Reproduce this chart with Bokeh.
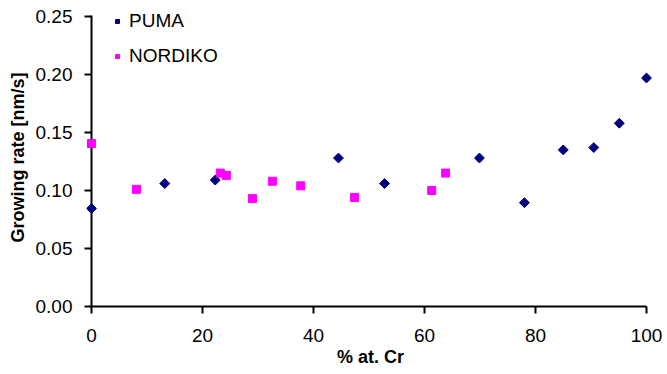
import math
from bokeh.plotting import figure
from bokeh.models import FixedTicker, NumeralTickFormatter, Legend, LegendItem, Range1d
from bokeh.embed import file_html
from bokeh.resources import INLINE

# Data
puma_x = [0, 13.2, 22.3, 44.5, 52.8, 69.9, 78.0, 85.0, 90.5, 95.1, 100]
puma_y = [0.0845, 0.106, 0.109, 0.128, 0.106, 0.128, 0.0895, 0.135, 0.137, 0.158, 0.197]

nordiko_x = [0, 8.1, 23.2, 24.3, 29.0, 32.6, 37.7, 47.4, 61.3, 63.8]
nordiko_y = [0.1405, 0.101, 0.115, 0.113, 0.093, 0.108, 0.104, 0.094, 0.100, 0.115]

x_ticks = [0, 20, 40, 60, 80, 100]
y_ticks = [0.0, 0.05, 0.10, 0.15, 0.20, 0.25]

FONT = "Liberation Sans"

# small padding around the data area so edge markers are not clipped
p = figure(width=665, height=372, output_backend="svg", toolbar_location=None,
           x_range=Range1d(-0.901, 101.441), y_range=Range1d(0, 0.2569),
           min_border_left=86, min_border_right=11, min_border_top=8, min_border_bottom=66)
p.outline_line_color = None
p.xgrid.visible = False
p.ygrid.visible = False
p.background_fill_color = "white"
p.border_fill_color = "white"

# y axis line drawn at x = 0, from 0 to the top tick
p.segment(x0=[x_ticks[0]], y0=[y_ticks[0]], x1=[x_ticks[0]], y1=[y_ticks[-1]],
          line_width=2, line_color="black", line_cap="square")

r1 = p.scatter(puma_x, puma_y, marker="square", angle=math.pi / 4, size=7, color="#000080")
r2 = p.scatter(nordiko_x, nordiko_y, marker="square", size=8, color="#FF00FF")

for ax in (p.xaxis[0], p.yaxis[0]):
    ax.axis_line_width = 2
    ax.axis_line_color = "black"
    ax.major_tick_line_width = 2
    ax.major_tick_line_color = "black"
    ax.minor_tick_line_color = None
    ax.major_label_text_font = FONT
    ax.major_label_text_font_size = "19px"
    ax.major_label_text_color = "black"
    ax.axis_label_text_font = FONT
    ax.axis_label_text_font_size = "18px"
    ax.axis_label_text_font_style = "bold"
    ax.axis_label_text_color = "black"

p.xaxis[0].major_tick_in = 0
p.xaxis[0].major_tick_out = 7
p.yaxis[0].major_tick_in = 5
p.yaxis[0].major_tick_out = 2
p.yaxis[0].axis_line_color = None

p.xaxis[0].ticker = FixedTicker(ticks=x_ticks)
p.yaxis[0].ticker = FixedTicker(ticks=y_ticks)
p.xaxis[0].bounds = (x_ticks[0], x_ticks[-1])
p.yaxis[0].formatter = NumeralTickFormatter(format="0.00")
p.xaxis[0].axis_label = "% at. Cr"
p.yaxis[0].axis_label = "Growing rate [nm/s]"
p.xaxis[0].major_label_standoff = 15
p.yaxis[0].major_label_standoff = 12
p.xaxis[0].axis_label_standoff = 2
p.yaxis[0].axis_label_standoff = 5

legend = Legend(items=[LegendItem(label="PUMA", renderers=[r1]),
                       LegendItem(label="NORDIKO", renderers=[r2])],
                location=(26, 239))
legend.background_fill_alpha = 0
legend.border_line_color = None
legend.padding = 0
legend.margin = 0
legend.spacing = 13
legend.glyph_width = 10
legend.glyph_height = 20
legend.label_standoff = 7
legend.label_text_font = FONT
legend.label_text_font_size = "19px"
legend.label_text_color = "black"
p.add_layout(legend, "center")

open("out.html", "w").write(file_html(p, INLINE))
